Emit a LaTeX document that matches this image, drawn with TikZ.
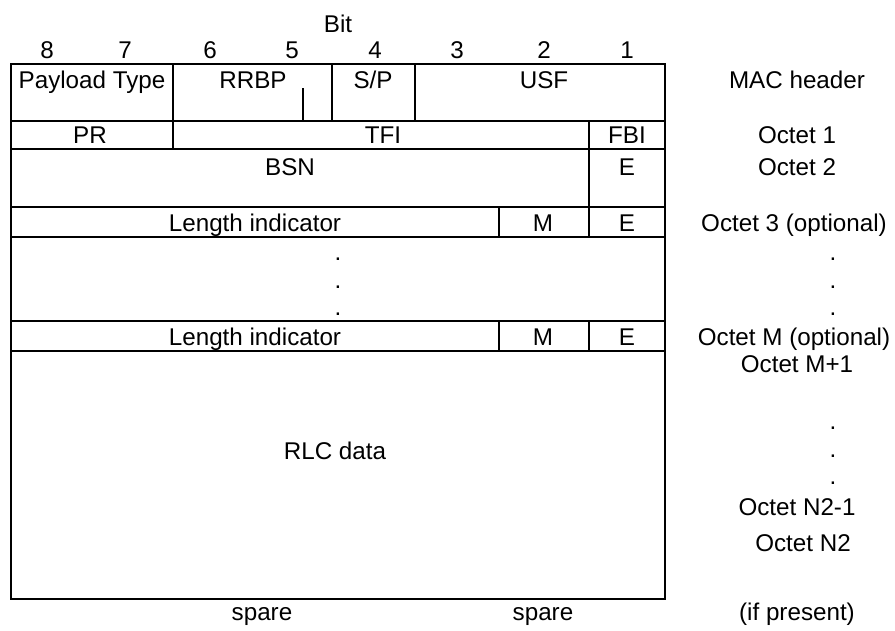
\documentclass[tikz,border=0pt]{standalone}
\usepackage{fontspec}
\setmainfont{Liberation Sans}
\begin{document}
\begin{tikzpicture}[x=1pt,y=-1pt,
  grid/.style={line width=2.3pt},
  lbl/.style={inner sep=0pt,anchor=base,font=\fontsize{24.2}{28}\selectfont}]
\useasboundingbox (0,0) rectangle (895,630);
% frame and rules
\draw[grid] (11,64) rectangle (665,599);
\foreach \yy in {121,149,207,237,321,351}{\draw[grid] (11,\yy) -- (665,\yy);}
\draw[grid] (173,64) -- (173,149);
\draw[grid] (332,64) -- (332,121);
\draw[grid] (415,64) -- (415,121);
\draw[grid] (303,88) -- (303,121);
\draw[grid] (589,121) -- (589,237);
\draw[grid] (499,207) -- (499,237);
\draw[grid] (499,321) -- (499,351);
\draw[grid] (589,321) -- (589,351);
% bit header
\node[lbl] (bit) at (338,32) {Bit};
\node[lbl] (b8) at (47,58) {8};
\node[lbl] (b7) at (125,58) {7};
\node[lbl] (b6) at (210,58) {6};
\node[lbl] (b5) at (292,58) {5};
\node[lbl] (b4) at (375,58) {4};
\node[lbl] (b3) at (457,58) {3};
\node[lbl] (b2) at (544,58) {2};
\node[lbl] (b1) at (627,58) {1};
% MAC header row
\node[lbl] (pt) at (92,88) {Payload Type};
\node[lbl] (rrbp) at (253,88) {RRBP};
\node[lbl] (sp) at (373,88) {S/P};
\node[lbl] (usf) at (544,88) {USF};
\node[lbl] (mac) at (797,88) {MAC header};
% octet 1
\node[lbl] (pr) at (90,143) {PR};
\node[lbl] (tfi) at (383,143) {TFI};
\node[lbl] (fbi) at (627,143) {FBI};
\node[lbl] (o1) at (797,143) {Octet 1};
% octet 2
\node[lbl] (bsn) at (290,175) {BSN};
\node[lbl] (e2) at (627,175) {E};
\node[lbl] (o2) at (797,175) {Octet 2};
% octet 3
\node[lbl] (li1) at (255,231) {Length indicator};
\node[lbl] (m3) at (543,231) {M};
\node[lbl] (e3) at (627,231) {E};
\node[lbl] (o3) at (794,231) {Octet 3 (optional)};
% dots
\node[lbl] (d1) at (338,260) {.};
\node[lbl] (d2) at (338,288) {.};
\node[lbl] (d3) at (338,315) {.};
\node[lbl] (r1) at (833,260) {.};
\node[lbl] (r2) at (833,288) {.};
\node[lbl] (r3) at (833,315) {.};
% octet M
\node[lbl] (li2) at (255,345) {Length indicator};
\node[lbl] (mm) at (543,345) {M};
\node[lbl] (em) at (627,345) {E};
\node[lbl] (om) at (794,345) {Octet M (optional)};
\node[lbl] (om1) at (797,372) {Octet M+1};
% data
\node[lbl] (rlc) at (335,459) {RLC data};
\node[lbl] (r4) at (833,429) {.};
\node[lbl] (r5) at (833,457) {.};
\node[lbl] (r6) at (833,484) {.};
\node[lbl] (on21) at (797,515) {Octet N2-1};
\node[lbl] (on2) at (803,551) {Octet N2};
% bottom
\node[lbl] (sp1) at (262,620) {spare};
\node[lbl] (sp2) at (543,620) {spare};
\node[lbl] (ifp) at (797,620) {(if present)};
\end{tikzpicture}
\end{document}
